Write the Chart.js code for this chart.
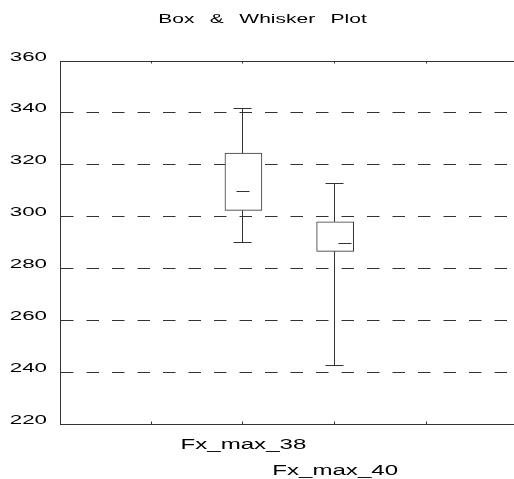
<!DOCTYPE html>
<html>
<head>
    <title>Box & Whisker Plot</title>
    <script src="https://cdn.jsdelivr.net/npm/chart.js"></script>
    <style>
        body { margin: 0; background: #fff; }
    </style>
</head>
<body>
<canvas id="boxplot" width="514" height="479"></canvas>
<script>
    // data
    const categories = ['Fx_max_38', 'Fx_max_40'];
    const xSlots = [2, 3];
    const whiskerLow = [290.3, 242.7];
    const q1 = [302.4, 286.6];
    const median = [310, 290];
    const q3 = [324.5, 298];
    const whiskerHigh = [342, 313];
    const yMin = 220, yMax = 360, yStep = 20;
    const titleText = 'Box & Whisker Plot';

    const LINE = '#333';
    const STRETCH = 1.72;   // the original's text is drawn wide
    const MEDIAN_TICK = [[-6, 7], [4, 17]];

    function wideText(ctx, text, x, y, size, align, stretch) {
        ctx.save();
        ctx.font = size + 'px "Liberation Sans", Arial, sans-serif';
        ctx.fillStyle = '#000';
        ctx.textAlign = align;
        ctx.textBaseline = 'alphabetic';
        ctx.translate(x, y);
        ctx.scale(stretch, 1);
        ctx.fillText(text, 0, 0);
        ctx.restore();
    }

    const whiskers = {
        id: 'whiskers',
        afterDatasetsDraw(chart) {
            const ctx = chart.ctx;
            const xs = chart.scales.x, ys = chart.scales.y;
            ctx.save();
            ctx.strokeStyle = LINE;
            ctx.lineWidth = 1;
            categories.forEach((c, i) => {
                const x = Math.round(xs.getPixelForValue(xSlots[i])) - 0.5;
                const yHi = Math.round(ys.getPixelForValue(whiskerHigh[i])) + 0.5;
                const yQ3 = ys.getPixelForValue(q3[i]);
                const yQ1 = ys.getPixelForValue(q1[i]);
                const yLo = Math.round(ys.getPixelForValue(whiskerLow[i])) + 0.5;
                const yMed = Math.round(ys.getPixelForValue(median[i])) + 0.5;
                ctx.beginPath();
                ctx.moveTo(x, yHi); ctx.lineTo(x, yQ3);
                ctx.moveTo(x, yQ1); ctx.lineTo(x, yLo);
                ctx.moveTo(x - 9, yHi); ctx.lineTo(x + 9, yHi);
                ctx.moveTo(x - 9, yLo); ctx.lineTo(x + 9, yLo);
                ctx.moveTo(x + MEDIAN_TICK[i][0], yMed); ctx.lineTo(x + MEDIAN_TICK[i][1], yMed);
                ctx.stroke();
            });
            ctx.restore();
        },
        afterDraw(chart) {
            const ctx = chart.ctx;
            const area = chart.chartArea;
            const xs = chart.scales.x, ys = chart.scales.y;

            // top frame line and the small inward tick marks
            ctx.save();
            ctx.strokeStyle = LINE;
            ctx.lineWidth = 1;
            ctx.beginPath();
            ctx.moveTo(area.left, area.top + 0.5);
            ctx.lineTo(area.right, area.top + 0.5);
            for (let v = 1; v < xs.max; v++) {
                const x = Math.round(xs.getPixelForValue(v)) - 0.5;
                ctx.moveTo(x, area.top); ctx.lineTo(x, area.top + 2.5);
                ctx.moveTo(x, area.bottom); ctx.lineTo(x, area.bottom - 2.5);
            }
            ctx.stroke();
            ctx.restore();

            // title
            ctx.save();
            if ('wordSpacing' in ctx) ctx.wordSpacing = '5.5px';
            wideText(ctx, titleText, 262.5, 23, 12, 'center', 1.75);
            ctx.restore();

            // y tick labels
            ys.ticks.forEach(t => {
                const y = ys.getPixelForValue(t.value);
                wideText(ctx, String(t.value), area.left - 13, y - 0.5, 13, 'right', STRETCH);
            });

            // staggered category labels
            categories.forEach((c, i) => {
                const x = xs.getPixelForValue(xSlots[i]);
                wideText(ctx, c, x, area.bottom + 25 + i * 26, 14, 'center', STRETCH);
            });
        }
    };

    const canvas = document.getElementById('boxplot');
    new Chart(canvas, {
        type: 'bar',
        data: {
            datasets: [{
                label: 'Box',
                data: categories.map((c, i) => ({x: xSlots[i], y: [q1[i], q3[i]]})),
                backgroundColor: '#fff',
                borderColor: LINE,
                borderWidth: 1,
                borderSkipped: false,
                barThickness: 37
            }]
        },
        options: {
            responsive: false,
            animation: false,
            layout: {padding: {left: 60, top: 61, right: 0, bottom: 47}},
            plugins: {
                legend: {display: false},
                title: {display: false},
                tooltip: {enabled: false}
            },
            scales: {
                x: {
                    type: 'linear',
                    offset: false,
                    min: 0,
                    max: 4.95,
                    ticks: {display: false, stepSize: 1},
                    grid: {display: false, offset: false},
                    border: {display: true, color: LINE, width: 1}
                },
                y: {
                    min: yMin,
                    max: yMax,
                    ticks: {display: false, stepSize: yStep},
                    grid: {
                        drawTicks: false,
                        color: ctx => (ctx.tick && (ctx.tick.value === yMin || ctx.tick.value === yMax)) ? 'rgba(0,0,0,0)' : LINE,
                        lineWidth: 1
                    },
                    border: {display: true, color: LINE, width: 1, dash: [12.5, 13]}
                }
            }
        },
        plugins: [whiskers]
    });
</script>
</body>
</html>
